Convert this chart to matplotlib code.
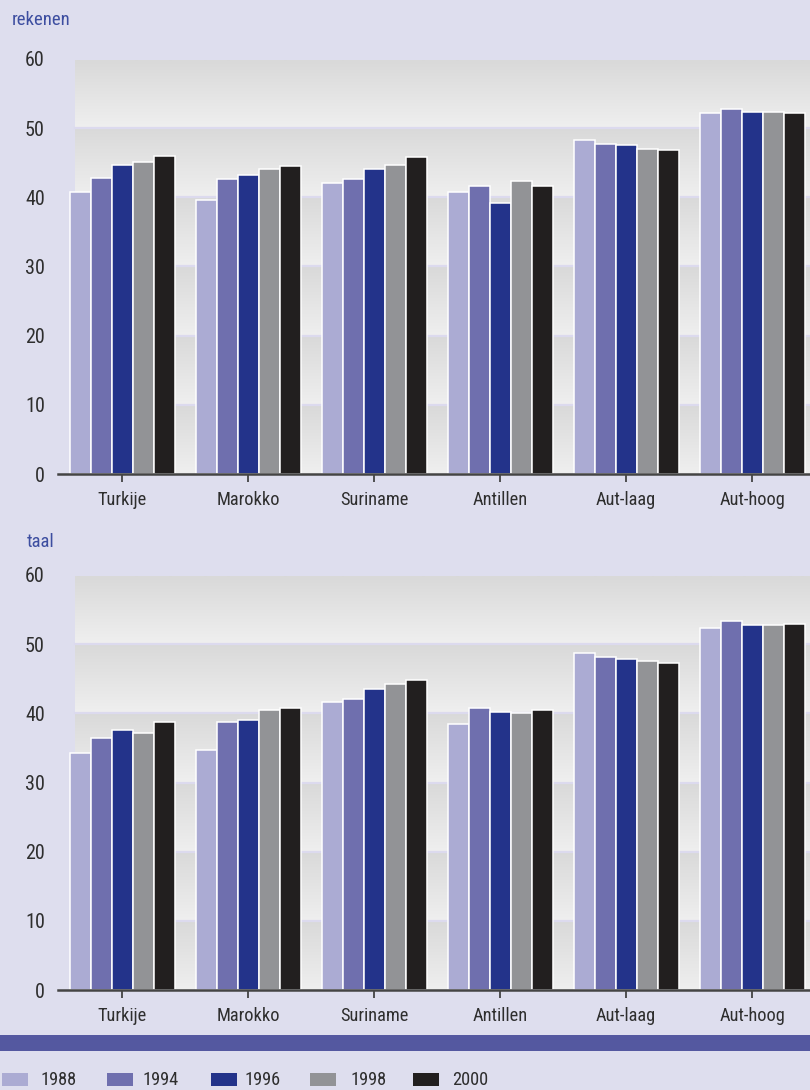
import matplotlib
matplotlib.use("Agg")
import matplotlib.pyplot as plt
import numpy as np
from matplotlib.colors import LinearSegmentedColormap
from matplotlib.patches import Rectangle
from matplotlib import font_manager

categories = ["Turkije", "Marokko", "Suriname", "Antillen", "Aut-laag", "Aut-hoog"]
years = ["1988", "1994", "1996", "1998", "2000"]
colors = ["#ababd3", "#6f6fae", "#23338a", "#929396", "#221f1f"]

# rekenen (arithmetic) values per year
rekenen_1988 = [40.7, 39.6, 42.1, 40.8, 48.3, 52.2]
rekenen_1994 = [42.8, 42.6, 42.6, 41.6, 47.7, 52.8]
rekenen_1996 = [44.7, 43.2, 44.1, 39.1, 47.6, 52.3]
rekenen_1998 = [45.1, 44.1, 44.7, 42.3, 47.0, 52.3]
rekenen_2000 = [46.0, 44.5, 45.8, 41.6, 46.8, 52.2]

# taal (language) values per year
taal_1988 = [34.2, 34.7, 41.7, 38.5, 48.7, 52.4]
taal_1994 = [36.4, 38.8, 42.1, 40.8, 48.1, 53.4]
taal_1996 = [37.6, 39.1, 43.5, 40.2, 47.9, 52.8]
taal_1998 = [37.2, 40.5, 44.2, 40.1, 47.5, 52.8]
taal_2000 = [38.8, 40.7, 44.8, 40.5, 47.3, 52.9]

yticks = [0, 10, 20, 30, 40, 50, 60]

# ---- pick a condensed font if one exists ----
entries = font_manager.fontManager.ttflist
COND = ("condensed", "semi-condensed", "extra-condensed")
FONT, STRETCH, CONDENSED = None, "normal", False
for name in ["Liberation Sans Narrow", "Arial Narrow", "Roboto Condensed",
             "Open Sans Condensed", "Noto Sans Condensed", "DejaVu Sans Condensed"]:
    if any(f.name == name for f in entries):
        FONT, CONDENSED = name, True
        break
if FONT is None:
    for name in ["Noto Sans", "Open Sans", "Roboto", "DejaVu Sans", "Liberation Sans"]:
        hits = [f for f in entries if f.name == name and str(f.stretch) in COND
                and f.style == "normal"]
        if hits:
            FONT, STRETCH, CONDENSED = name, str(hits[0].stretch), True
            break
if FONT is None:
    FONT = "Liberation Sans" if any(f.name == "Liberation Sans" for f in entries) else "DejaVu Sans"

plt.rcParams["font.family"] = [FONT, "DejaVu Sans"]
plt.rcParams["font.stretch"] = STRETCH

if CONDENSED:
    FS_Y, FS_X, FS_LEG, FS_T = 14.5, 13.2, 13.2, 13.5
else:
    FS_Y, FS_X, FS_LEG, FS_T = 13, 11.3, 11.5, 12

BG = "#dedeee"
TXT = "#2e2e2e"
W, H = 810, 1090
fig = plt.figure(figsize=(W / 100, H / 100), dpi=100, facecolor=BG)

band_cmap = LinearSegmentedColormap.from_list("band", ["#efefef", "#d9d9d9"])
grad = np.linspace(0, 1, 64).reshape(-1, 1)


def px_x(p):
    return p / W


def make_panel(y0_px, y60_px, series, title, title_x, title_y):
    ax = fig.add_axes([px_x(58), 1 - y0_px / H, px_x(752), (y0_px - y60_px) / H])
    ax.set_facecolor(BG)
    xlim = (-0.508, 5.46)
    gray_left = -0.373
    top_val = 59.7
    for k in range(6):
        lo = 10 * k
        hi = min(10 * k + 10, top_val)
        ax.imshow(grad, extent=[gray_left, xlim[1], lo, hi], origin="lower",
                  aspect="auto", cmap=band_cmap, zorder=0, interpolation="bilinear")
    fx = (gray_left - xlim[0]) / (xlim[1] - xlim[0])
    for v in [10, 20, 30, 40, 50]:
        ax.axhline(v, xmin=fx, xmax=1, color="#dcdaee", lw=1.6, zorder=1)
    x = np.arange(len(categories))
    bw = 1 / 6
    for j, vals in enumerate(series):
        ax.bar(x + (j - 2) * bw, vals, width=bw, color=colors[j],
               edgecolor="white", linewidth=1.1, zorder=2)
    ax.set_xlim(*xlim)
    ax.set_ylim(0, 60)
    for s in ["top", "right", "left"]:
        ax.spines[s].set_visible(False)
    ax.spines["bottom"].set_color("#444444")
    ax.spines["bottom"].set_linewidth(1.8)
    ax.spines["bottom"].set_zorder(3)
    ax.set_xticks(x)
    ax.set_xticklabels(categories, fontsize=FS_X, color=TXT)
    ax.tick_params(axis="x", length=6, width=1.3, color="#444444", pad=6.5)
    ax.set_yticks(yticks)
    ax.set_yticklabels([str(t) for t in yticks], fontsize=FS_Y, color=TXT)
    ax.tick_params(axis="y", length=0, pad=9.5)
    fig.text(px_x(title_x), 1 - title_y / H, title, fontsize=FS_T, color="#3d4ea0",
             ha="left", va="center")
    return ax


make_panel(474, 58.8, [rekenen_1988, rekenen_1994, rekenen_1996, rekenen_1998, rekenen_2000],
           "rekenen", 12, 20)
make_panel(990, 575, [taal_1988, taal_1994, taal_1996, taal_1998, taal_2000],
           "taal", 27, 542)

# thick band
fig.patches.append(Rectangle((0, 1 - 1051 / H), 1, 16 / H, transform=fig.transFigure,
                             facecolor="#5458a0", edgecolor="none"))

# legend
sq_x = [2, 107, 211, 310, 413]
lab_x = [41, 143, 244, 350, 452]
for j, yr in enumerate(years):
    fig.patches.append(Rectangle((sq_x[j] / W, 1 - 1086 / H), 26 / W, 13 / H,
                                 transform=fig.transFigure, facecolor=colors[j],
                                 edgecolor="none"))
    fig.text(lab_x[j] / W, 1 - 1080 / H, yr, fontsize=FS_LEG, color=TXT,
             ha="left", va="center")

fig.savefig("out.png", dpi=100, facecolor=BG)
